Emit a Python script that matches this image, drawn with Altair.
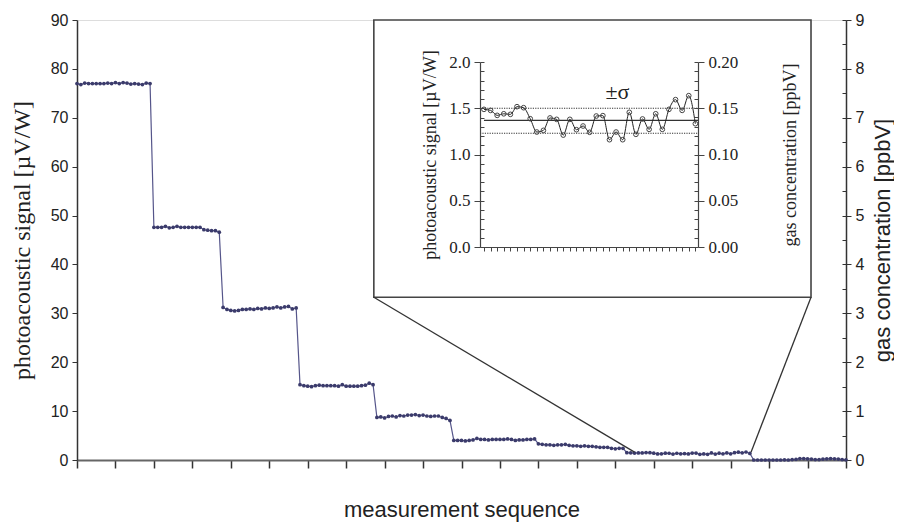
import altair as alt
import pandas as pd

# ---------------- data ----------------
seg1 = [77.0, 76.8, 77.1, 77.0, 77.0, 77.0, 77.0, 77.0, 77.1, 77.0,
        77.2, 77.0, 77.2, 77.1, 76.9, 77.0, 76.9, 76.8, 77.1, 77.0]
seg2 = [47.6, 47.6, 47.6, 47.8, 47.5, 47.6, 47.8, 47.6, 47.6, 47.6,
        47.6, 47.6, 47.6, 47.1, 47.0, 46.9, 46.9, 46.6]
seg3 = [31.2, 30.8, 30.6, 30.5, 30.6, 30.8, 30.8, 30.9, 30.8, 31.0,
        30.9, 31.1, 31.0, 31.1, 31.3, 31.1, 31.3, 31.4, 30.9, 31.1]
seg4 = [15.4, 15.2, 15.1, 15.0, 15.2, 15.3, 15.2, 15.2, 15.2, 15.2,
        15.1, 15.4, 15.1, 15.1, 15.1, 15.1, 15.2, 15.3, 15.7, 15.4]
seg5 = [8.7, 8.8, 8.6, 8.9, 9.0, 8.8, 9.1, 9.0, 9.2, 9.2,
        9.3, 9.1, 9.2, 9.0, 8.9, 9.0, 9.0, 8.7, 8.5, 8.1]
seg6 = [4.0, 4.0, 4.0, 3.9, 4.0, 4.1, 4.4, 4.2, 4.2, 4.1, 4.2,
        4.2, 4.2, 4.2, 4.3, 4.2, 4.0, 4.1, 4.1, 4.2, 4.2, 4.3]
seg7 = [3.3, 3.2, 3.1, 3.1, 3.0, 3.1, 3.1, 3.2, 3.0, 2.9, 2.9, 2.8,
        2.9, 2.8, 2.8, 2.7, 2.6, 2.6, 2.6, 2.4, 2.3, 2.4, 2.4]
# zoomed segment (also shown in the inset)
seg8 = [1.488, 1.477, 1.423, 1.440, 1.434, 1.517, 1.506, 1.387, 1.243, 1.261,
        1.395, 1.380, 1.210, 1.380, 1.268, 1.308, 1.240, 1.416, 1.420, 1.160,
        1.243, 1.160, 1.456, 1.218, 1.384, 1.272, 1.440, 1.272, 1.488, 1.593,
        1.477, 1.636, 1.333]
seg9 = [0.0, 0.0, 0.0, 0.0, 0.0, 0.0, 0.0, 0.0, 0.05, 0.0, 0.1, 0.15, 0.3,
        0.3, 0.25, 0.2, 0.1, 0.1, 0.2, 0.25, 0.3, 0.25, 0.2, 0.1, 0.05]

main_signal = seg1 + seg2 + seg3 + seg4 + seg5 + seg6 + seg7 + seg8 + seg9
main_index = list(range(len(main_signal)))

x_ticks = list(range(0, 201, 10))
y_ticks = list(range(0, 91, 10))
conc_ticks = list(range(0, 10))
conc_minor = [i * 0.5 for i in range(19)]

# zoom box (main-chart data units) and connector end points
zoom_box_x = [77.2, 190.9]
zoom_box_y = [33.3, 90.0]
conn_x_start = [77.2, 190.9]
conn_y_start = [33.3, 33.3]
conn_x_end = [145.0, 175.3]
conn_y_end = [1.6, 1.6]

# inset
inset_index = list(range(len(seg8)))
inset_mean = 1.37
inset_sigma_levels = [1.50, 1.23]
inset_y_ticks = [0.0, 0.5, 1.0, 1.5, 2.0]
inset_y_minor = [round(i * 0.1, 2) for i in range(21)]
inset_c_ticks = [0.0, 0.05, 0.10, 0.15, 0.20]
inset_c_minor = [round(i * 0.01, 3) for i in range(21)]
sigma_label = ["±σ"]
sigma_label_x = [20.2]
sigma_label_y = [1.55]

# ---------------- styling ----------------
SANS = "Liberation Sans"
SERIF = "Liberation Serif"
LINE = "#55558a"
MARK = "#3b3b6b"
AX = "#333333"
IAX = "#444444"

W, H = 769, 440

main_df = pd.DataFrame({"idx": main_index, "signal": main_signal})
conc_df = pd.DataFrame({"conc": [c / 10.0 for c in main_signal]})
box_df = pd.DataFrame({"idx": [zoom_box_x[0]], "idx2": [zoom_box_x[1]],
                       "signal": [zoom_box_y[0]], "signal2": [zoom_box_y[1]]})
conn_df = pd.DataFrame({"idx": conn_x_start, "signal": conn_y_start,
                        "idx2": conn_x_end, "signal2": conn_y_end})

sx_main = alt.Scale(domain=[0, 200], nice=False, zero=False)
sy_main = alt.Scale(domain=[0, 90], nice=False)
sy_conc = alt.Scale(domain=[0, 9], nice=False)

x_main = alt.X("idx:Q", scale=sx_main,
               axis=alt.Axis(values=x_ticks, labels=False, tickSize=8, tickWidth=1.5,
                             tickColor=AX, domainColor="#666", domainWidth=2,
                             grid=False, title="measurement sequence",
                             titleFont=SANS, titleFontSize=22, titleFontWeight="normal",
                             titleColor="#222", titleY=56, titleBaseline="alphabetic"))
y_main = alt.Y("signal:Q", scale=sy_main,
               axis=alt.Axis(orient="left", values=y_ticks, tickSize=5, tickColor=AX,
                             domainColor=AX, domainWidth=1.5, grid=False,
                             labelFont=SANS, labelFontSize=16, labelColor="#222",
                             labelPadding=4,
                             title="photoacoustic signal [µV/W]", titleFont=SERIF,
                             titleFontSize=24, titleFontWeight="normal",
                             titleColor="#222", titleX=-55, titleBaseline="middle"))

main_line = alt.Chart(main_df).mark_line(color=LINE, strokeWidth=1.2).encode(x=x_main, y=y_main)
main_pts = alt.Chart(main_df).mark_point(filled=True, size=14, color=MARK, opacity=1).encode(
    x=x_main, y=y_main)
box = alt.Chart(box_df).mark_rect(fill="white", stroke="#444", strokeWidth=1.6).encode(
    x=x_main, x2="idx2", y=y_main, y2="signal2")
conn = alt.Chart(conn_df).mark_rule(color="#333", strokeWidth=1.3).encode(
    x=x_main, x2="idx2", y=y_main, y2="signal2")
main_core = alt.layer(main_line, main_pts, box, conn)

main_right = alt.Chart(conc_df).mark_point(opacity=0).encode(
    y=alt.Y("conc:Q", scale=sy_conc,
            axis=alt.Axis(orient="right", values=conc_ticks, tickSize=5, tickColor=AX,
                          domainColor=AX, domainWidth=1.5, grid=False,
                          labelFont=SANS, labelFontSize=16, labelColor="#222",
                          labelPadding=4, title="gas concentration [ppbV]",
                          titleFont=SANS, titleFontSize=22, titleFontWeight="normal",
                          titleColor="#222", titleAngle=270, titleX=36,
                          titleBaseline="middle")))
main_right_minor = alt.Chart(conc_df).mark_point(opacity=0).encode(
    y=alt.Y("conc:Q", scale=sy_conc,
            axis=alt.Axis(orient="left", offset=-W, values=conc_minor, tickSize=4,
                          tickColor=AX, domain=False, labels=False, grid=False, title=None)))
main_group = alt.layer(main_core, main_right, main_right_minor).resolve_scale(y="independent")

# ---------------- inset ----------------
IX0, IX1 = 403, 621      # inset plot area in plot pixels
IY0, IY1 = 227, 42
sx_in = alt.Scale(domain=[-0.6, 32.4], range=[IX0, IX1], nice=False, zero=False)
sy_in = alt.Scale(domain=[0, 2], range=[IY0, IY1], nice=False)
sy_inc = alt.Scale(domain=[0, 0.2], range=[IY0, IY1], nice=False)

inset_df = pd.DataFrame({"k": inset_index, "ps": seg8})
inset_c_df = pd.DataFrame({"pc": [v / 10.0 for v in seg8]})
sig_df = pd.DataFrame({"ps": inset_sigma_levels, "k": [-0.6] * 2, "k2": [32.4] * 2})
mean_df = pd.DataFrame({"ps": [inset_mean], "k": [0.0], "k2": [32.4]})
lab_df = pd.DataFrame({"k": sigma_label_x, "ps": sigma_label_y, "t": sigma_label})

x_in = alt.X("k:Q", scale=sx_in,
             axis=alt.Axis(orient="bottom", offset=-(H - IY0), values=inset_index,
                           labels=False, tickSize=4, tickColor=IAX, domainColor=IAX,
                           domainWidth=1.2, grid=False, title=None, zindex=2))
y_in = alt.Y("ps:Q", scale=sy_in,
             axis=alt.Axis(orient="left", offset=-IX0, values=inset_y_ticks, format=".1f",
                           tickSize=6, tickColor=IAX, domainColor=IAX,
                           domainWidth=1.2, grid=False, labelFont=SERIF, labelFontSize=17,
                           labelColor="#222", labelPadding=4,
                           title="photoacoustic signal [µV/W]", titleFont=SERIF,
                           titleFontSize=18, titleFontWeight="normal", titleColor="#222",
                           titleX=-50, titleBaseline="middle", zindex=2))

in_line = alt.Chart(inset_df).mark_line(color="#222", strokeWidth=1, interpolate="monotone").encode(
    x=x_in, y=y_in)
in_pts = alt.Chart(inset_df).mark_point(shape="circle", filled=False, size=22, color="#444",
                                        strokeWidth=1, opacity=1).encode(x=x_in, y=y_in)
in_sig = alt.Chart(sig_df).mark_rule(color="#333", strokeWidth=1.2, strokeDash=[1.2, 1.2]).encode(
    x=x_in, x2="k2", y=y_in)
in_mean = alt.Chart(mean_df).mark_rule(color="#333", strokeWidth=1.2).encode(
    x=x_in, x2="k2", y=y_in)
in_lab = alt.Chart(lab_df).mark_text(font=SERIF, fontSize=22, color="#222",
                                     baseline="bottom").encode(x=x_in, y=y_in, text="t:N")
inset_core = alt.layer(in_sig, in_mean, in_line, in_pts, in_lab)

in_right = alt.Chart(inset_c_df).mark_point(opacity=0).encode(
    y=alt.Y("pc:Q", scale=sy_inc,
            axis=alt.Axis(orient="right", offset=-(W - IX1), values=inset_c_ticks,
                          format=".2f", tickSize=6, tickColor=IAX, domainColor=IAX,
                          domainWidth=1.2, grid=False, labelFont=SERIF, labelFontSize=17,
                          labelColor="#222", labelPadding=4,
                          title="gas concentration [ppbV]", titleFont=SERIF,
                          titleFontSize=18, titleFontWeight="normal", titleColor="#222",
                          titleAngle=270, titleX=92, titleBaseline="middle", zindex=2)))
in_left_minor = alt.Chart(inset_df).mark_point(opacity=0).encode(
    y=alt.Y("ps:Q", scale=sy_in,
            axis=alt.Axis(orient="right", offset=-(W - IX0), values=inset_y_minor,
                          tickSize=4, tickColor=IAX, domain=False, labels=False,
                          grid=False, title=None, zindex=2)))
in_right_minor = alt.Chart(inset_c_df).mark_point(opacity=0).encode(
    y=alt.Y("pc:Q", scale=sy_inc,
            axis=alt.Axis(orient="left", offset=-IX1, values=inset_c_minor,
                          tickSize=4, tickColor=IAX, domain=False, labels=False,
                          grid=False, title=None, zindex=2)))
inset_group = alt.layer(inset_core, in_right, in_left_minor, in_right_minor).resolve_scale(
    y="independent")

chart = alt.layer(main_group, inset_group).resolve_scale(
    x="independent", y="independent"
).properties(
    width=W, height=H,
    autosize=alt.AutoSizeParams(type="none"),
    padding={"left": 69, "top": 12, "right": 48, "bottom": 70},
).configure_view(stroke=None).configure(background="white")

chart.save("out.html", embed_options={"renderer": "svg", "actions": False})
